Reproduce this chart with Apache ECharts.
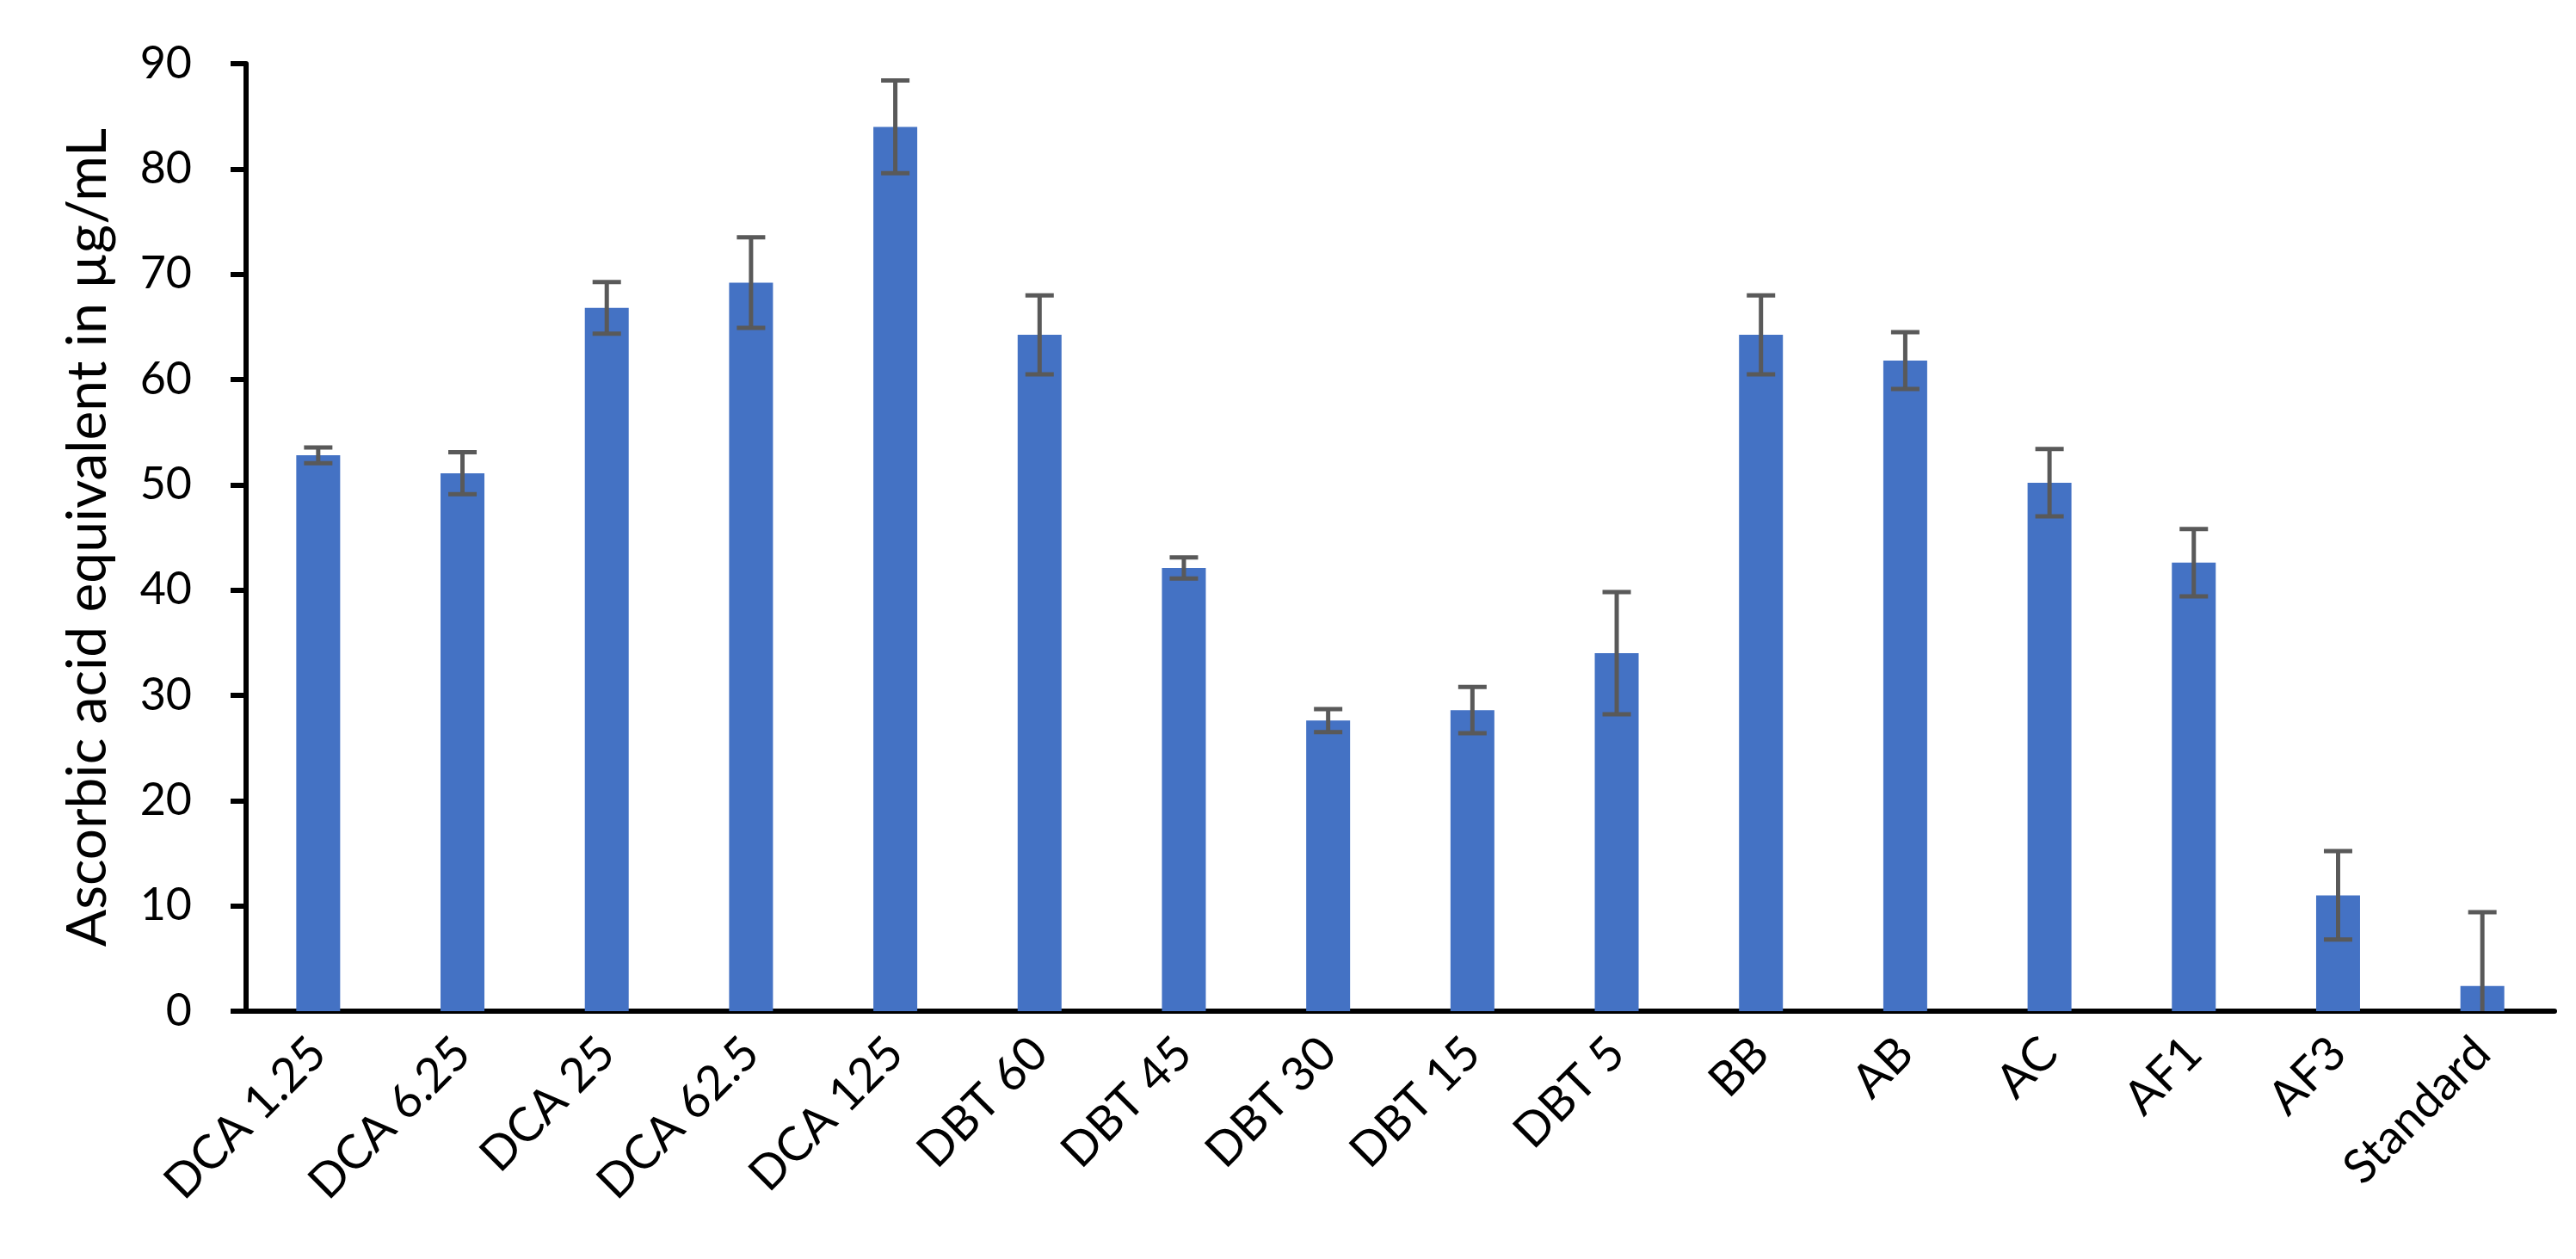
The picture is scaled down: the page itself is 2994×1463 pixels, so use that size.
<!DOCTYPE html>
<html>
<head>
<meta charset="utf-8">
<script src="https://cdn.jsdelivr.net/npm/echarts@6/dist/echarts.min.js"></script>
<style>
html,body{margin:0;padding:0;background:#fff;}
#chart{width:2994px;height:1463px;}
</style>
</head>
<body>
<div id="chart"></div>
<script>
const categories = ['DCA 1.25','DCA 6.25','DCA 25','DCA 62.5','DCA 125','DBT 60','DBT 45','DBT 30','DBT 15','DBT 5','BB','AB','AC','AF1','AF3','Standard'];
const values = [52.8, 51.1, 66.8, 69.2, 84.0, 64.25, 42.1, 27.6, 28.6, 34.0, 64.25, 61.8, 50.2, 42.6, 11.0, 2.4];
const errors = [0.75, 2.0, 2.45, 4.3, 4.4, 3.75, 1.0, 1.1, 2.2, 5.8, 3.75, 2.7, 3.2, 3.2, 4.2, 7.0];
const yTicks = [0, 10, 20, 30, 40, 50, 60, 70, 80, 90];
const yTitle = 'Ascorbic acid equivalent in µg/mL';

const FONT = 'Lato';
const errData = values.map((v, i) => [i, v - errors[i], v + errors[i]]);

const chart = echarts.init(document.getElementById('chart'), null, {renderer: 'canvas'});
chart.setOption({
  animation: false,
  backgroundColor: '#ffffff',
  grid: {left: 286, right: 25, top: 74, bottom: 288, containLabel: false},
  xAxis: {
    type: 'category',
    data: categories,
    axisLine: {lineStyle: {color: '#000', width: 6}},
    axisTick: {show: false},
    axisLabel: {rotate: 45, margin: 40, fontFamily: FONT, fontSize: 55, color: '#000', interval: 0}
  },
  yAxis: {
    type: 'value',
    min: yTicks[0],
    max: yTicks[yTicks.length - 1],
    interval: yTicks[1] - yTicks[0],
    name: yTitle,
    nameLocation: 'middle',
    nameGap: 152,
    nameTextStyle: {fontFamily: FONT, fontSize: 64, color: '#000'},
    axisLine: {show: true, lineStyle: {color: '#000', width: 6}},
    axisTick: {show: true, length: 18, inside: false, lineStyle: {color: '#000', width: 6}},
    splitLine: {show: false},
    axisLabel: {margin: 63, fontFamily: FONT, fontSize: 52, color: '#000'}
  },
  series: [
    {
      type: 'bar',
      data: values,
      barWidth: 51,
      itemStyle: {color: '#4472C4'}
    },
    {
      type: 'custom',
      data: errData,
      clip: true,
      z: 5,
      renderItem: function (params, api) {
        const x = api.value(0);
        const lo = api.coord([x, api.value(1)]);
        const hi = api.coord([x, api.value(2)]);
        const half = 16.5;
        const style = {stroke: '#595959', lineWidth: 5};
        return {
          type: 'group',
          children: [
            {type: 'line', shape: {x1: hi[0], y1: hi[1], x2: lo[0], y2: lo[1]}, style: style},
            {type: 'line', shape: {x1: hi[0] - half, y1: hi[1], x2: hi[0] + half, y2: hi[1]}, style: style},
            {type: 'line', shape: {x1: lo[0] - half, y1: lo[1], x2: lo[0] + half, y2: lo[1]}, style: style}
          ]
        };
      }
    }
  ]
});
</script>
</body>
</html>
